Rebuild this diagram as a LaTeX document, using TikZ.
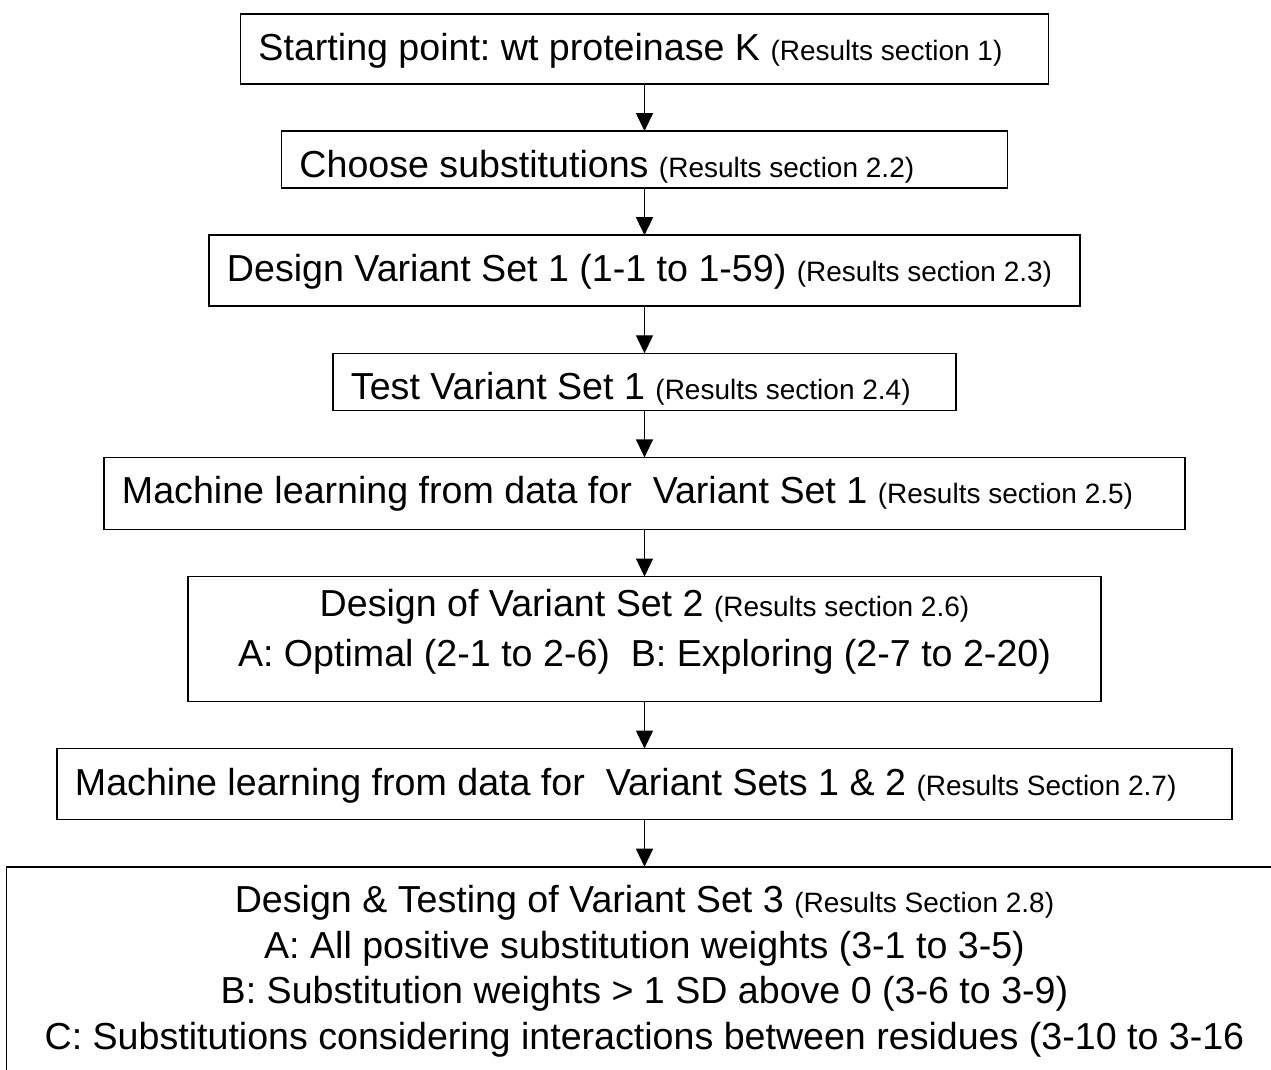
\documentclass[tikz,border=0pt]{standalone}
\usepackage{fontspec}
\setmainfont{Liberation Sans}
\usetikzlibrary{arrows.meta,matrix}
\frenchspacing

\newcommand{\stagefont}{\fontsize{37.6pt}{45.5pt}\selectfont}
\newcommand{\resref}[1]{{\fontsize{28pt}{34pt}\selectfont #1}}
\newcommand{\stageline}[2]{\makebox[#1][l]{#2}}

\begin{document}
\begin{tikzpicture}[->,>={Triangle[width=17pt,length=18pt]}
	,line width=1.3pt
	,x=1pt,y=1pt]
  \tikzstyle{stage}=[draw,line width=1.6pt,inner xsep=18pt,inner ysep=0pt,text height=46.5pt,font=\stagefont]
  \tikzstyle{bigstage}=[draw,line width=1.6pt,inner xsep=0pt,font=\stagefont]
  \useasboundingbox (0,0) rectangle (1271,-1070);

      \matrix (m) at (644.5,-13.2) [anchor=north,inner sep=0pt,outer sep=0pt
      ,row sep=45.5pt]
      {
      %one line boxes
      \node[stage,text depth=23.5pt](start) {\stageline{772pt}{Starting point: wt proteinase K \resref{(Results section 1)}}}; \\
      \node[stage,text depth=10.5pt](subst) {\stageline{690pt}{Choose substitutions \resref{(Results section 2.2)}}}; \\
      \node[stage,text depth=24.5pt](des1) {\stageline{835pt}{Design Variant Set 1 (1-1 to 1-59) \resref{(Results section 2.3)}}}; \\
      \node[stage,text depth=10.5pt](test1) {\stageline{587pt}{Test Variant Set 1 \resref{(Results section 2.4)}}}; \\
      \node[stage,text depth=25.5pt](ml1) {\stageline{1045pt}{Machine learning from data for\ \ Variant Set 1 \resref{(Results section 2.5)}}}; \\
      %two lines
      \node[bigstage,inner ysep=13pt](des2) {\parbox[c][99pt][t]{913pt}{\centering\fontsize{37.6pt}{50pt}\selectfont
        Design of Variant Set 2 \resref{(Results section 2.6)}\\
        A: Optimal (2-1 to 2-6)\ \ B: Exploring (2-7 to 2-20)}}; \\
      \node[stage,text depth=24.5pt](ml2) {\stageline{1139pt}{Machine learning from data for\ \ Variant Sets 1 \& 2 \resref{(Results Section 2.7)}}}; \\
      %last box runs off the page
      \node[bigstage,inner ysep=19pt](des3) {\parbox[c][250pt][t]{1276pt}{\centering\fontsize{37.6pt}{45.5pt}\selectfont
        Design \& Testing of Variant Set 3 \resref{(Results Section 2.8)}\\
        A: All positive substitution weights (3-1 to 3-5)\\
        B: Substitution weights > 1 SD above 0 (3-6 to 3-9)\\
        C: Substitutions considering interactions between residues (3-10 to 3-16}}; \\
      };

  \path
 	(start) edge (subst)
 	(subst) edge (des1)
 	(des1) edge (test1)
 	(test1) edge (ml1)
 	(ml1) edge (des2)
 	(des2) edge (ml2)
 	(ml2) edge (des3);

\end{tikzpicture}
\end{document}
